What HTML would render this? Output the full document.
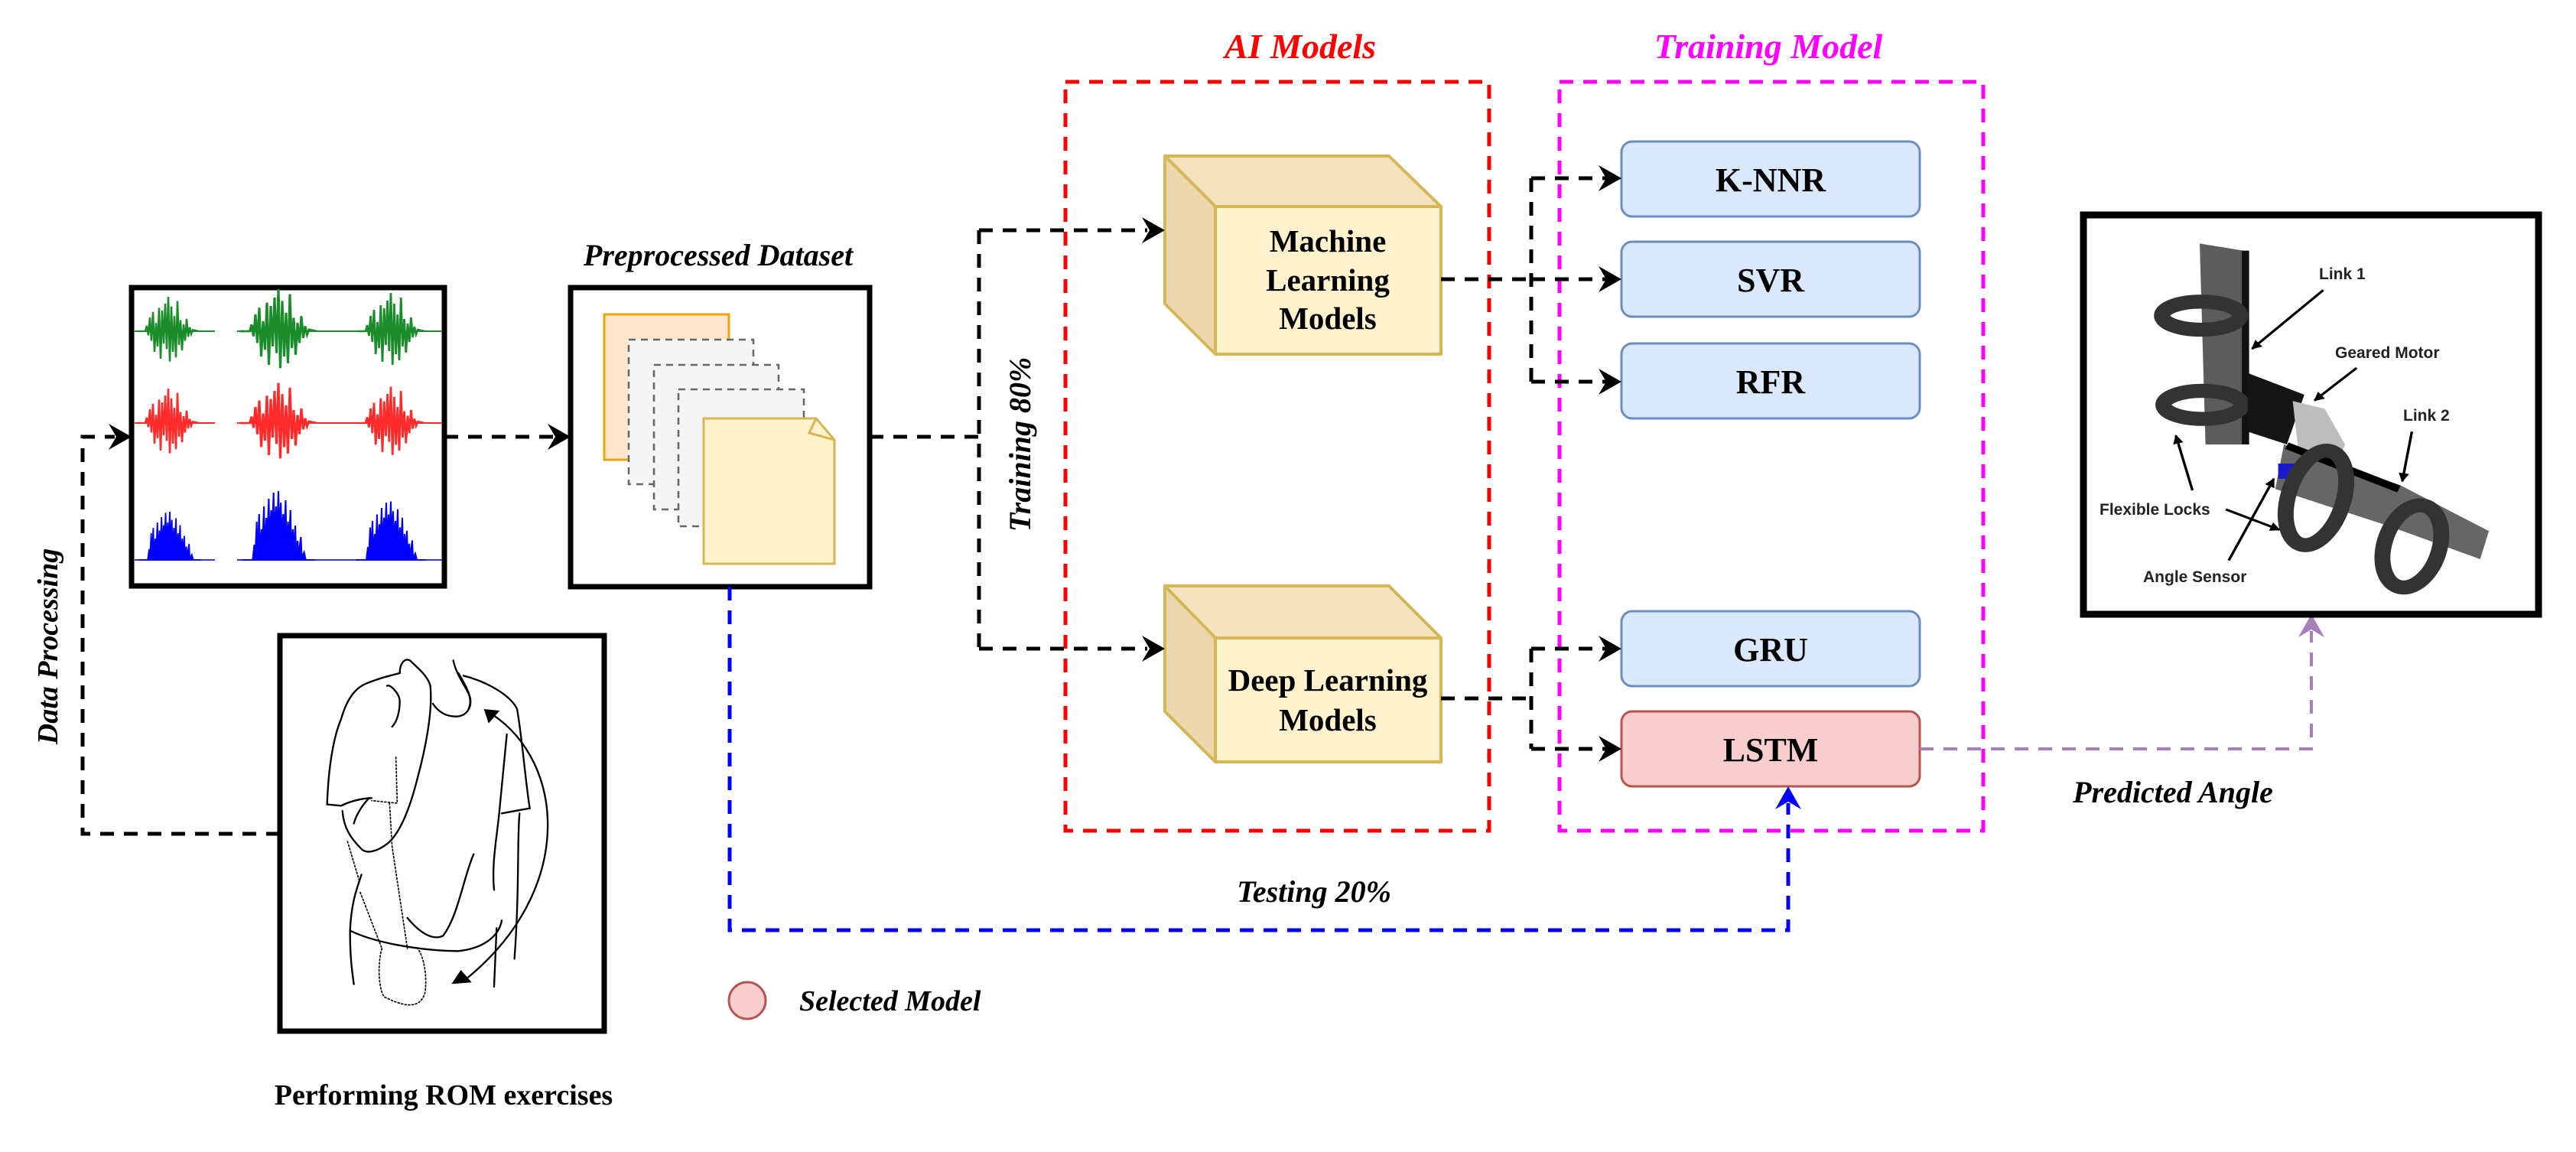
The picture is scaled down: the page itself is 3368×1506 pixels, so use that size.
<!DOCTYPE html>
<html><head><meta charset="utf-8"><style>
html,body{margin:0;padding:0;background:#fff;}
svg{display:block;}
text{font-family:"Liberation Serif",serif;font-weight:bold;}
.it{font-style:italic;}
.rl{font-family:"Liberation Sans",sans-serif;font-weight:bold;font-size:21px;fill:#222;}
</style></head><body>
<svg width="3368" height="1506" viewBox="0 0 3368 1506" xmlns="http://www.w3.org/2000/svg">
<defs>
<path id="ah" d="M0,0 L-30,-17 L-20,0 L-30,17 Z"/>
<path id="gb" d="M-40,0 L-30,0 -28,-8 -26,6 -24,-20 -22,14 -20,-28 -18,30 -16,-12 -14,22 -12,-34 -10,40 -8,-30 -6,18 -4,-40 -2,26 0,-50 2,44 4,-36 6,30 8,-22 10,38 12,-44 14,20 16,-16 18,28 20,-10 22,14 24,-18 26,8 28,-6 30,4 32,-2 40,0"/>
<path id="ub" d="M-45,0 L-32,0 -30,-20 -29,0 -27,-50 -26,-5 -24,-60 -23,-10 -21,-40 -20,-12 -18,-70 -17,-15 -15,-55 -14,-20 -12,-80 -11,-25 -9,-65 -8,-30 -6,-88 -5,-35 -3,-70 -2,-25 0,-90 1,-40 3,-75 4,-30 6,-60 7,-25 9,-78 10,-20 12,-50 13,-15 15,-65 16,-12 18,-40 19,-10 21,-45 22,-8 24,-25 25,-5 28,-30 29,-3 32,-10 34,0 45,0 Z"/>
<marker id="sm" viewBox="0 0 10 10" refX="9" refY="5" markerWidth="4" markerHeight="4" orient="auto"><path d="M0,0 L10,5 L0,10 Z" fill="#000"/></marker>
</defs>

<rect x="172" y="376" width="409" height="390" fill="#fff" stroke="#000" stroke-width="7"/>
<g stroke-width="2" fill="none">
<path d="M176,433 H281 M310,433 H578" stroke="#1a8c2a"/>
<path d="M176,553 H281 M310,553 H578" stroke="#ff2a2a"/>
<path d="M176,732 H281 M310,732 H578" stroke="#3333ff"/>
</g>
<g stroke="#1a8c2a" stroke-width="2.5" fill="none">
<use href="#gb" transform="translate(220,433) scale(1,0.9)"/>
<use href="#gb" transform="translate(364,433) scale(1.25,1.1)"/>
<use href="#gb" transform="translate(511,433) scale(1.1,1)"/>
</g>
<g stroke="#ff2a2a" stroke-width="2.5" fill="none">
<use href="#gb" transform="translate(220,553) scale(1,0.9)"/>
<use href="#gb" transform="translate(364,553) scale(1.25,1.05)"/>
<use href="#gb" transform="translate(511,553) scale(1.1,0.95)"/>
</g>
<g stroke="#0000ff" stroke-width="2" fill="#0000ff">
<use href="#ub" transform="translate(222,732) scale(0.9,0.7)"/>
<use href="#ub" transform="translate(364,732) scale(1.05,1)"/>
<use href="#ub" transform="translate(511,732) scale(1,0.85)"/>
</g>

<text x="939" y="347" font-size="40" text-anchor="middle" class="it">Preprocessed Dataset</text>
<rect x="746" y="376" width="391" height="391" fill="#fff" stroke="#000" stroke-width="7"/>
<rect x="790" y="411" width="163" height="190" fill="#ffe6cc" stroke="#f0a30a" stroke-width="3"/>
<g fill="#f5f5f5" stroke="#666" stroke-width="2.5" stroke-dasharray="9 7">
<rect x="822" y="444" width="163" height="189"/>
<rect x="855" y="477" width="163" height="189"/>
<rect x="887" y="509" width="164" height="179"/>
</g>
<path d="M920,547 H1067 L1091,575 V737 H920 Z" fill="#fff2cc" stroke="#d6b656" stroke-width="3"/>
<path d="M1067,547 L1058,566 L1091,575" fill="none" stroke="#d6b656" stroke-width="3"/>

<rect x="366" y="831" width="424" height="517" fill="#fff" stroke="#000" stroke-width="7"/>
<g transform="translate(366,830) scale(0.3333)" fill="none" stroke="#000" stroke-width="7" stroke-linecap="round">
<path d="M185,665 C190,520 210,400 240,330 C260,260 290,210 340,190 C390,170 430,160 470,150"/>
<path d="M185,665 L240,670 C280,650 330,640 360,640"/>
<path d="M590,200 C600,300 570,450 540,560 C510,680 470,780 420,820 C380,850 340,860 320,840 C280,800 250,760 245,690"/>
<path d="M470,150 C470,110 490,90 510,100 C540,130 580,160 590,200"/>
<path d="M420,200 C430,190 470,230 470,260 C470,300 460,340 440,360"/>
<path d="M290,740 C300,700 330,660 350,640"/>
<path d="M680,100 C690,150 720,190 740,230 C760,270 740,320 690,320 C650,320 620,300 600,270"/>
<path d="M700,150 C730,200 760,250 740,290"/>
<path d="M720,160 C800,180 900,230 930,290 C950,400 960,550 980,680 L870,700"/>
<path d="M890,390 C880,500 870,600 860,700 C850,800 830,900 840,1000"/>
<path d="M940,700 C930,800 940,1000 920,1270"/>
<path d="M320,940 C300,1000 280,1050 275,1160 C275,1250 280,1300 290,1370"/>
<path d="M275,1160 C400,1220 600,1240 700,1240 C800,1230 860,1180 870,1120"/>
<path d="M500,1110 C550,1170 600,1200 640,1180 C700,1100 720,950 760,860"/>
<path d="M850,1150 L840,1380"/>
<path d="M830,310 C1120,500 1160,1000 730,1350"/>
<path d="M805,295 L855,300 L820,340 Z" fill="#000"/>
<path d="M680,1365 L745,1360 L710,1320 Z" fill="#000"/>
<g stroke-dasharray="6 8" stroke-width="5">
<path d="M265,810 L310,960"/><path d="M315,1010 L400,1230"/>
<path d="M430,660 L440,830 L500,1230"/><path d="M455,480 L460,660 L360,650"/>
<path d="M400,1230 C380,1300 390,1400 410,1420 C470,1450 550,1480 570,1400 C580,1300 550,1240 540,1230"/>
</g>
</g>
<text x="580" y="1444" font-size="38" text-anchor="middle">Performing ROM exercises</text>
<text transform="translate(75,845) rotate(-90)" font-size="38" text-anchor="middle" class="it">Data Processing</text>

<text x="1700" y="76" font-size="46" text-anchor="middle" class="it" fill="#ff0000">AI Models</text>
<rect x="1393" y="107" width="554" height="979" fill="none" stroke="#ff0000" stroke-width="5" stroke-dasharray="18 13"/>
<text x="2312" y="76" font-size="46" text-anchor="middle" class="it" fill="#ff00ff">Training Model</text>
<rect x="2039" y="107" width="554" height="979" fill="none" stroke="#ff00ff" stroke-width="5" stroke-dasharray="18 13"/>

<g stroke="#d6b656" stroke-width="4" stroke-linejoin="round">
<path d="M1523,204 H1816 L1884,270 H1589 Z" fill="#f3e2bd"/>
<path d="M1523,204 L1589,270 V463 L1523,397 Z" fill="#ead7ae"/>
<rect x="1589" y="270" width="295" height="193" fill="#fff2cc"/>
<path d="M1523,766 H1816 L1884,834 H1589 Z" fill="#f3e2bd"/>
<path d="M1523,766 L1589,834 V996 L1523,930 Z" fill="#ead7ae"/>
<rect x="1589" y="834" width="295" height="162" fill="#fff2cc"/>
</g>
<g font-size="41" text-anchor="middle">
<text x="1736" y="329">Machine</text><text x="1736" y="380">Learning</text><text x="1736" y="430">Models</text>
<text x="1736" y="903">Deep Learning</text><text x="1736" y="955">Models</text>
</g>

<g stroke-width="3">
<rect x="2120" y="185" width="390" height="98" rx="14" fill="#dae8fc" stroke="#6c8ebf"/>
<rect x="2120" y="316" width="390" height="98" rx="14" fill="#dae8fc" stroke="#6c8ebf"/>
<rect x="2120" y="449" width="390" height="98" rx="14" fill="#dae8fc" stroke="#6c8ebf"/>
<rect x="2120" y="799" width="390" height="98" rx="14" fill="#dae8fc" stroke="#6c8ebf"/>
<rect x="2120" y="930" width="390" height="98" rx="14" fill="#f8cecc" stroke="#b85450"/>
</g>
<g font-size="44" text-anchor="middle">
<text x="2315" y="250">K-NNR</text><text x="2315" y="381">SVR</text><text x="2315" y="514">RFR</text>
<text x="2315" y="864">GRU</text><text x="2315" y="995">LSTM</text>
</g>

<g fill="none" stroke="#000" stroke-width="5" stroke-dasharray="18 13">
<path d="M366,1090 H108 V571 H150"/>
<path d="M581,571 H725"/>
<path d="M1137,571 H1280"/>
<path d="M1280,301 V848"/>
<path d="M1280,301 H1500 M1280,848 H1500"/>
<path d="M1884,365 H2002 M2002,233 V499 M2002,233 H2100 M2002,365 H2100 M2002,499 H2100"/>
<path d="M1884,913 H2002 M2002,848 V979 M2002,848 H2100 M2002,979 H2100"/>
</g>
<g fill="#000">
<use href="#ah" transform="translate(172,571)"/>
<use href="#ah" transform="translate(746,571)"/>
<use href="#ah" transform="translate(1523,301)"/>
<use href="#ah" transform="translate(1523,848)"/>
<use href="#ah" transform="translate(2120,233)"/>
<use href="#ah" transform="translate(2120,365)"/>
<use href="#ah" transform="translate(2120,499)"/>
<use href="#ah" transform="translate(2120,848)"/>
<use href="#ah" transform="translate(2120,979)"/>
</g>
<path d="M954,767 V1216 H2338 V1050" fill="none" stroke="#0000ff" stroke-width="5" stroke-dasharray="18 13"/>
<use href="#ah" fill="#0000ff" transform="translate(2338,1028) rotate(-90)"/>
<path d="M2510,979 H3022 V825" fill="none" stroke="#a680b8" stroke-width="4" stroke-dasharray="18 13"/>
<use href="#ah" fill="#a680b8" transform="translate(3022,803) rotate(-90)"/>

<text transform="translate(1347,581) rotate(-90)" font-size="40" text-anchor="middle" class="it">Training 80%</text>
<text x="1718" y="1179" font-size="40" text-anchor="middle" class="it">Testing 20%</text>
<text x="2841" y="1049" font-size="40" text-anchor="middle" class="it">Predicted Angle</text>
<circle cx="977" cy="1308" r="24" fill="#f8cecc" stroke="#b85450" stroke-width="3"/>
<text x="1045" y="1321" font-size="38" class="it">Selected Model</text>

<rect x="2724" y="281" width="595" height="522" fill="#fff" stroke="#000" stroke-width="9"/>
<g transform="translate(2724,281) scale(0.38,0.3333)">
<path d="M400,112 L550,140 L560,900 L420,900 Z" fill="#5c5c5c"/>
<rect x="545" y="140" width="25" height="760" fill="#111"/>
<ellipse cx="405" cy="395" rx="135" ry="55" fill="none" stroke="#333" stroke-width="55"/>
<ellipse cx="410" cy="745" rx="135" ry="55" fill="none" stroke="#333" stroke-width="55"/>
<path d="M565,620 L760,705 L700,900 L565,850 Z" fill="#151515"/>
<path d="M720,730 L830,760 L900,900 L880,960 L740,930 Z" fill="#bdbdbd"/>
<path d="M690,900 L1090,1060 L1395,1240 L1365,1350 L1050,1220 L660,1075 Z" fill="#666"/>
<path d="M700,905 L1085,1075" stroke="#000" stroke-width="28"/>
<rect x="670" y="975" width="70" height="60" fill="#1a1acc"/>
<ellipse cx="800" cy="1110" rx="95" ry="190" transform="rotate(15 800 1110)" fill="none" stroke="#333" stroke-width="55"/>
<ellipse cx="1130" cy="1300" rx="95" ry="165" transform="rotate(15 1130 1300)" fill="none" stroke="#333" stroke-width="55"/>
<g stroke="#000" stroke-width="9" fill="none" marker-end="url(#sm)">
<path d="M825,295 L580,525"/><path d="M940,600 L795,728"/><path d="M1130,850 L1097,1045"/>
<path d="M375,1080 L318,865"/><path d="M490,1155 L675,1235"/><path d="M500,1355 L655,1035"/>
</g>
</g>
<text class="rl" x="3032" y="365">Link 1</text>
<text class="rl" x="3053" y="468">Geared Motor</text>
<text class="rl" x="3142" y="550">Link 2</text>
<text class="rl" x="2745" y="673">Flexible Locks</text>
<text class="rl" x="2802" y="761">Angle Sensor</text>
</svg>
</body></html>
